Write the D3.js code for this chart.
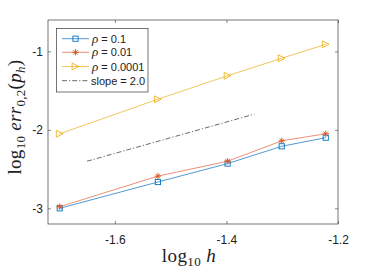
<!DOCTYPE html>
<html>
<head>
<meta charset="utf-8">
<script src="https://cdn.jsdelivr.net/npm/d3@7"></script>
<style>
  body { margin: 0; background: #fff; }
  svg { display: block; }
</style>
</head>
<body>
<svg id="chart" width="374" height="277"></svg>
<script>
// ----------------------------
// Data
// ----------------------------
var logH = [-1.699, -1.523, -1.398, -1.301, -1.222];
var errRho1 = [-3.00, -2.665, -2.43, -2.21, -2.10];
var errRho01 = [-2.98, -2.59, -2.40, -2.14, -2.05];
var errRho0001 = [-2.05, -1.61, -1.31, -1.088, -0.91];
var slopeX = [-1.65, -1.35];
var slopeY = [-2.4, -1.8];
var xTicks = [-1.6, -1.4, -1.2];
var yTicks = [-3, -2, -1];
var seriesNames = ["0.1", "0.01", "0.0001"];

// ----------------------------
// Layout
// ----------------------------
var svg = d3.select("#chart");
var plotLeft = 48, plotRight = 338, plotTop = 20, plotBottom = 224;
var axisColor = "#3a3a3a";

var x = d3.scaleLinear().domain([-1.72, -1.2]).range([plotLeft, plotRight]);
var y = d3.scaleLinear().domain([-3.2, -0.6]).range([plotBottom, plotTop]);

var series = [
    { name: seriesNames[0], values: errRho1, color: "#0072BD", line: "#3d8fd0", marker: "square" },
    { name: seriesNames[1], values: errRho01, color: "#D95319", line: "#e8836a", marker: "star" },
    { name: seriesNames[2], values: errRho0001, color: "#EDB120", line: "#f0c04e", marker: "triangle" }
];

// matlab style labels use a plain hyphen
var fmtX = d => d.toFixed(1);
var fmtY = d => String(d);

// Axes box with inward ticks on all sides
svg.append("g")
    .attr("transform", `translate(0,${plotBottom})`)
    .call(d3.axisBottom(x).tickValues(xTicks).tickSizeInner(-3).tickSizeOuter(0).tickPadding(11).tickFormat(fmtX))
    .call(g => g.select(".domain").remove())
    .call(g => g.selectAll("line").attr("stroke", axisColor).attr("stroke-width", 0.6))
    .call(g => g.selectAll("text").attr("fill", "#222").style("font-family", "Liberation Sans, Arial, sans-serif").style("font-size", "12px"));

svg.append("g")
    .attr("transform", `translate(0,${plotTop})`)
    .call(d3.axisTop(x).tickValues(xTicks).tickSizeInner(-3).tickSizeOuter(0).tickFormat(""))
    .call(g => g.select(".domain").remove())
    .call(g => g.selectAll("line").attr("stroke", axisColor).attr("stroke-width", 0.6));

svg.append("g")
    .attr("transform", `translate(${plotLeft},0)`)
    .call(d3.axisLeft(y).tickValues(yTicks).tickSizeInner(-3).tickSizeOuter(0).tickPadding(5).tickFormat(fmtY))
    .call(g => g.select(".domain").remove())
    .call(g => g.selectAll("line").attr("stroke", axisColor).attr("stroke-width", 0.6))
    .call(g => g.selectAll("text").attr("fill", "#222").style("font-family", "Liberation Sans, Arial, sans-serif").style("font-size", "12px"));

svg.append("g")
    .attr("transform", `translate(${plotRight},0)`)
    .call(d3.axisRight(y).tickValues(yTicks).tickSizeInner(-3).tickSizeOuter(0).tickFormat(""))
    .call(g => g.select(".domain").remove())
    .call(g => g.selectAll("line").attr("stroke", axisColor).attr("stroke-width", 0.6));

svg.append("rect")
    .attr("x", plotLeft).attr("y", plotTop)
    .attr("width", plotRight - plotLeft).attr("height", plotBottom - plotTop)
    .attr("fill", "none").attr("stroke", axisColor).attr("stroke-width", 0.7);

// ----------------------------
// Markers
// ----------------------------
function drawMarker(g, type, cx, cy, color) {
    if (type === "square") {
        g.append("rect").attr("x", cx - 2.6).attr("y", cy - 2.6).attr("width", 5.2).attr("height", 5.2)
            .attr("fill", "none").attr("stroke", color).attr("stroke-width", 0.9);
    } else if (type === "star") {
        var r = 3.2;
        [0, 45, 90, 135].forEach(function (a) {
            var rad = a * Math.PI / 180;
            g.append("line")
                .attr("x1", cx - r * Math.cos(rad)).attr("y1", cy - r * Math.sin(rad))
                .attr("x2", cx + r * Math.cos(rad)).attr("y2", cy + r * Math.sin(rad))
                .attr("stroke", color).attr("stroke-width", 0.9);
        });
    } else if (type === "triangle") {
        var s = 3.4;
        g.append("path")
            .attr("d", `M${cx - s},${cy - s} L${cx + s},${cy} L${cx - s},${cy + s} Z`)
            .attr("fill", "none").attr("stroke", color).attr("stroke-width", 0.9);
    }
}

// ----------------------------
// Series
// ----------------------------
var lineGen = d3.line().x(d => x(d[0])).y(d => y(d[1]));

series.forEach(function (s) {
    var pts = logH.map((h, i) => [h, s.values[i]]);
    svg.append("path")
        .datum(pts)
        .attr("d", lineGen)
        .attr("fill", "none")
        .attr("stroke", s.line)
        .attr("stroke-width", 0.9);
    var mg = svg.append("g");
    pts.forEach(p => drawMarker(mg, s.marker, x(p[0]), y(p[1]), s.color));
});

// Reference slope line
svg.append("path")
    .datum(slopeX.map((v, i) => [v, slopeY[i]]))
    .attr("d", lineGen)
    .attr("fill", "none")
    .attr("stroke", "#444")
    .attr("stroke-width", 0.8)
    .attr("stroke-dasharray", "5,2,1.2,2");

// ----------------------------
// Legend
// ----------------------------
var legend = svg.append("g");
legend.append("rect")
    .attr("x", 56.5).attr("y", 28.5).attr("width", 91.5).attr("height", 63.5)
    .attr("fill", "#fff").attr("stroke", axisColor).attr("stroke-width", 0.7);

var rowY = [38.7, 52.3, 66.5, 80.7];
series.forEach(function (s, i) {
    legend.append("line")
        .attr("x1", 62).attr("x2", 89).attr("y1", rowY[i]).attr("y2", rowY[i])
        .attr("stroke", s.line).attr("stroke-width", 0.9);
    drawMarker(legend, s.marker, 75.5, rowY[i], s.color);
    var t = legend.append("text")
        .attr("x", 92).attr("y", rowY[i] + 4)
        .attr("fill", "#222")
        .style("font-family", "Liberation Sans, Arial, sans-serif")
        .style("font-size", "11px");
    t.append("tspan").text("ρ").style("font-family", "Liberation Serif, serif").style("font-style", "italic").style("font-size", "13px");
    t.append("tspan").text(" = " + s.name);
});
legend.append("line")
    .attr("x1", 62).attr("x2", 89).attr("y1", rowY[3]).attr("y2", rowY[3])
    .attr("stroke", "#444").attr("stroke-width", 0.8)
    .attr("stroke-dasharray", "5,2,1.2,2");
legend.append("text")
    .attr("x", 91).attr("y", rowY[3] + 4)
    .attr("fill", "#222")
    .style("font-family", "Liberation Sans, Arial, sans-serif")
    .style("font-size", "11px")
    .text("slope = 2.0");

// ----------------------------
// Axis labels
// ----------------------------
var xl = svg.append("text")
    .attr("x", 189).attr("y", 262)
    .attr("text-anchor", "middle")
    .attr("fill", "#222")
    .style("font-family", "Liberation Serif, serif")
    .style("font-size", "19px")
    .style("letter-spacing", "0.4px");
xl.append("tspan").text("log");
xl.append("tspan").text("10").attr("dy", 4).style("font-size", "13px");
xl.append("tspan").text(" h").attr("dy", -4).style("font-style", "italic");

var yl = svg.append("text")
    .attr("transform", "translate(20.5,117) rotate(-90)")
    .attr("text-anchor", "middle")
    .attr("fill", "#222")
    .style("font-family", "Liberation Serif, serif")
    .style("font-size", "19px")
    .style("letter-spacing", "0.3px");
yl.append("tspan").text("log");
yl.append("tspan").text("10").attr("dy", 4).style("font-size", "13px");
yl.append("tspan").text(" err").attr("dy", -4).style("font-style", "italic");
yl.append("tspan").text("0,2").attr("dy", 4).style("font-size", "13px");
yl.append("tspan").text("(").attr("dy", -4);
yl.append("tspan").text("p").style("font-style", "italic");
yl.append("tspan").text("h").attr("dy", 4).style("font-size", "13px").style("font-style", "italic");
yl.append("tspan").text(")").attr("dy", -4);
</script>
</body>
</html>
